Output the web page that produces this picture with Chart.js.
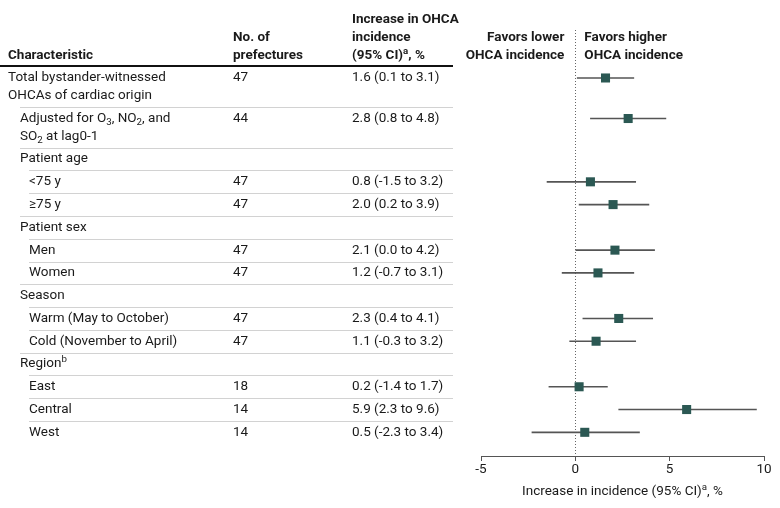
<!DOCTYPE html>
<html>
<head>
<meta charset="utf-8">
<script src="https://cdn.jsdelivr.net/npm/chart.js@4"></script>
<style>
  body { margin: 0; background: #fff; }
  #wrap { width: 780px; height: 508px; position: relative; }
</style>
</head>
<body>
<div id="wrap"><canvas id="forest"></canvas></div>
<script>
// table rows (markup: _{..} subscript, ^{..} superscript)
const labels = [
  ["Total bystander-witnessed", "OHCAs of cardiac origin"],
  ["Adjusted for O_{3}, NO_{2}, and", "SO_{2} at lag0-1"],
  ["Patient age"], ["<75 y"], ["≥75 y"],
  ["Patient sex"], ["Men"], ["Women"],
  ["Season"], ["Warm (May to October)"], ["Cold (November to April)"],
  ["Region^{b}"], ["East"], ["Central"], ["West"]
];
const indent = [0, 1, 1, 2, 2, 1, 2, 2, 1, 2, 2, 1, 2, 2, 2];
const prefectures = [47, 44, null, 47, 47, null, 47, 47, null, 47, 47, null, 18, 14, 14];
const estimate = [1.6, 2.8, null, 0.8, 2.0, null, 2.1, 1.2, null, 2.3, 1.1, null, 0.2, 5.9, 0.5];
const lower = [0.1, 0.8, null, -1.5, 0.2, null, 0.0, -0.7, null, 0.4, -0.3, null, -1.4, 2.3, -2.3];
const upper = [3.1, 4.8, null, 3.2, 3.9, null, 4.2, 3.1, null, 4.1, 3.2, null, 1.7, 9.6, 3.4];
const xTicks = [-5, 0, 5, 10];

const FONT = "Roboto";
const SIZE = 13.5;
const indentX = [8, 20, 29];

// row layout in "row units" (two-line rows are taller)
let acc = 0;
const tops = labels.map((l) => {
  const t = acc;
  acc += l.length > 1 ? 1.78 : 1;
  return t;
});
const pos = tops.map((t) => t + 0.5);

const ciData = [];
const pointData = [];
estimate.forEach((v, i) => {
  if (v === null) return;
  ciData.push({ y: pos[i], x: [lower[i], upper[i]] });
  pointData.push({ x: v, y: pos[i] });
});

function drawRich(ctx, str, x, y, size, weight, align) {
  const parts = [];
  str.split(/([_^]\{[^}]*\})/).forEach((p) => {
    if (!p) return;
    if (p[0] === "_" && p[1] === "{") parts.push({ t: p.slice(2, -1), dy: 4, s: size * 0.72 });
    else if (p[0] === "^" && p[1] === "{") parts.push({ t: p.slice(2, -1), dy: -4, s: size * 0.72 });
    else parts.push({ t: p, dy: 0, s: size });
  });
  let w = 0;
  parts.forEach((p) => {
    ctx.font = `${weight} ${p.s}px ${FONT}`;
    p.w = ctx.measureText(p.t).width;
    w += p.w;
  });
  let cx = align === "right" ? x - w : align === "center" ? x - w / 2 : x;
  ctx.textAlign = "left";
  ctx.textBaseline = "middle";
  parts.forEach((p) => {
    ctx.font = `${weight} ${p.s}px ${FONT}`;
    ctx.fillText(p.t, cx, y + p.dy);
    cx += p.w;
  });
}

const tablePlugin = {
  id: "table",
  beforeDatasetsDraw(chart) {
    const { ctx, scales, chartArea } = chart;
    const x0 = Math.round(scales.x.getPixelForValue(0)) + 0.5;
    ctx.save();
    ctx.strokeStyle = "#666";
    ctx.lineWidth = 1;
    ctx.setLineDash([1, 2]);
    ctx.beginPath();
    ctx.moveTo(x0, 30);
    ctx.lineTo(x0, chartArea.bottom);
    ctx.stroke();
    ctx.restore();
  },
  afterDraw(chart) {
    const { ctx, scales } = chart;
    const ys = scales.y;
    const x0 = scales.x.getPixelForValue(0);
    ctx.save();
    ctx.fillStyle = "#1a1a1a";

    // column headers
    drawRich(ctx, "Characteristic", 8, 56, SIZE, "bold", "left");
    drawRich(ctx, "No. of", 233, 38, SIZE, "bold", "left");
    drawRich(ctx, "prefectures", 233, 56, SIZE, "bold", "left");
    drawRich(ctx, "Increase in OHCA", 352, 20, SIZE, "bold", "left");
    drawRich(ctx, "incidence", 352, 38, SIZE, "bold", "left");
    drawRich(ctx, "(95% CI)^{a}, %", 352, 56, SIZE, "bold", "left");
    drawRich(ctx, "Favors lower", x0 - 11, 38, SIZE, "bold", "right");
    drawRich(ctx, "OHCA incidence", x0 - 11, 56, SIZE, "bold", "right");
    drawRich(ctx, "Favors higher", x0 + 9, 38, SIZE, "bold", "left");
    drawRich(ctx, "OHCA incidence", x0 + 9, 56, SIZE, "bold", "left");

    // header rule
    ctx.strokeStyle = "#111";
    ctx.lineWidth = 2;
    ctx.beginPath();
    ctx.moveTo(0, 66);
    ctx.lineTo(453, 66);
    ctx.stroke();

    // row dividers
    ctx.strokeStyle = "#d2d2d2";
    ctx.lineWidth = 1;
    for (let i = 1; i < labels.length; i++) {
      const yy = Math.round(ys.getPixelForValue(tops[i])) + 0.5;
      ctx.beginPath();
      ctx.moveTo(indentX[indent[i]], yy);
      ctx.lineTo(453, yy);
      ctx.stroke();
    }

    // row text
    labels.forEach((lines, i) => {
      const yy = ys.getPixelForValue(pos[i]);
      lines.forEach((t, k) => {
        drawRich(ctx, t, indentX[indent[i]], yy + k * 18, SIZE, "normal", "left");
      });
      if (prefectures[i] !== null) {
        drawRich(ctx, String(prefectures[i]), 233, yy, SIZE, "normal", "left");
        const ci = `${estimate[i].toFixed(1)} (${lower[i].toFixed(1)} to ${upper[i].toFixed(1)})`;
        drawRich(ctx, ci, 352, yy, SIZE, "normal", "left");
      }
    });

    // x axis title
    const cx = (chart.chartArea.left + chart.chartArea.right) / 2;
    drawRich(ctx, "Increase in incidence (95% CI)^{a}, %", cx, 492, SIZE, "normal", "center");
    ctx.restore();
  }
};

new Chart(document.getElementById("forest"), {
  type: "scatter",
  data: {
    datasets: [
      {
        type: "bar",
        indexAxis: "y",
        data: ciData,
        backgroundColor: "#555",
        borderWidth: 0,
        barThickness: 1,
        order: 2
      },
      {
        type: "scatter",
        data: pointData,
        pointStyle: "rect",
        pointRadius: 6.4,
        pointBorderWidth: 0,
        backgroundColor: "#2b5853",
        order: 1
      }
    ]
  },
  options: {
    responsive: true,
    maintainAspectRatio: false,
    animation: false,
    layout: { autoPadding: false, padding: { top: 65, left: 481, right: 16, bottom: 0 } },
    plugins: { legend: { display: false }, tooltip: { enabled: false } },
    scales: {
      x: {
        type: "linear",
        min: -5,
        max: 10,
        offset: false,
        afterBuildTicks: (s) => { s.ticks = xTicks.map((v) => ({ value: v })); },
        afterFit: (s) => { s.height = 52; },
        grid: { drawOnChartArea: false, drawTicks: true, tickLength: 5, color: "#555", offset: false },
        border: { color: "#555", width: 1 },
        ticks: { padding: 1, color: "#1a1a1a", font: { family: FONT, size: SIZE } }
      },
      y: {
        type: "linear",
        display: false,
        offset: false,
        min: -0.07,
        max: 17.1,
        reverse: true
      }
    }
  },
  plugins: [tablePlugin]
});
</script>
</body>
</html>
